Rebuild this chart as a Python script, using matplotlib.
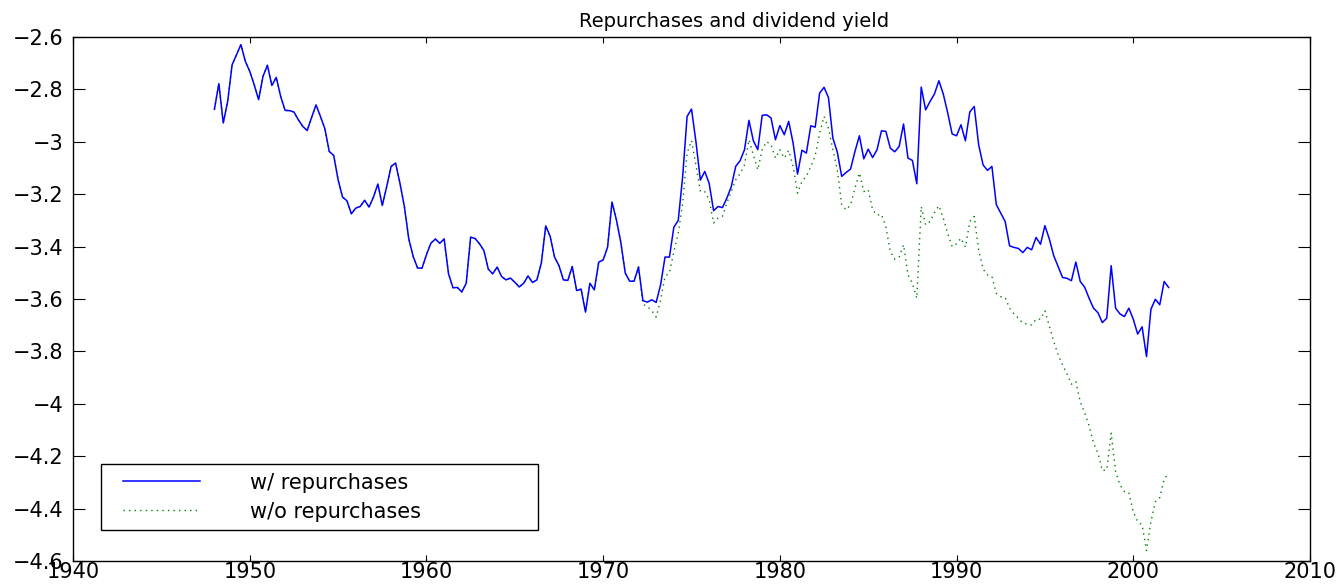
import matplotlib
matplotlib.use("Agg")
import matplotlib.pyplot as plt
from matplotlib.legend_handler import HandlerLine2D
import numpy as np

# quarterly log dividend yield, 1948Q1 .. 2002Q1
first_year = 1948.0
step_years = 0.25

with_repurchases = [
    -2.876, -2.778, -2.928, -2.846, -2.706, -2.668, -2.629, -2.693, -2.731, -2.782,
    -2.839, -2.750, -2.708, -2.785, -2.754, -2.827, -2.880, -2.881, -2.886, -2.916,
    -2.941, -2.957, -2.907, -2.859, -2.903, -2.950, -3.037, -3.052, -3.145, -3.211,
    -3.225, -3.275, -3.253, -3.247, -3.223, -3.249, -3.211, -3.161, -3.243, -3.171,
    -3.094, -3.081, -3.158, -3.247, -3.371, -3.438, -3.482, -3.482, -3.431, -3.387,
    -3.371, -3.387, -3.371, -3.504, -3.557, -3.556, -3.573, -3.540, -3.364, -3.369,
    -3.389, -3.415, -3.486, -3.504, -3.478, -3.514, -3.527, -3.520, -3.536, -3.554,
    -3.540, -3.512, -3.537, -3.527, -3.463, -3.321, -3.361, -3.440, -3.473, -3.527,
    -3.529, -3.476, -3.568, -3.562, -3.650, -3.540, -3.565, -3.459, -3.451, -3.402,
    -3.230, -3.298, -3.384, -3.501, -3.532, -3.532, -3.478, -3.606, -3.612, -3.603,
    -3.613, -3.546, -3.440, -3.440, -3.326, -3.300, -3.132, -2.903, -2.875, -2.999,
    -3.146, -3.113, -3.159, -3.263, -3.247, -3.251, -3.215, -3.171, -3.094, -3.072,
    -3.030, -2.918, -2.996, -3.030, -2.899, -2.897, -2.909, -2.992, -2.938, -2.973,
    -2.922, -3.005, -3.123, -3.032, -3.043, -2.939, -2.944, -2.814, -2.792, -2.831,
    -2.986, -3.039, -3.132, -3.117, -3.104, -3.037, -2.977, -3.065, -3.028, -3.060,
    -3.030, -2.958, -2.960, -3.024, -3.038, -3.018, -2.932, -3.062, -3.071, -3.160,
    -2.791, -2.878, -2.846, -2.817, -2.767, -2.818, -2.890, -2.970, -2.977, -2.935,
    -2.996, -2.886, -2.865, -3.011, -3.088, -3.109, -3.094, -3.240, -3.272, -3.304,
    -3.397, -3.403, -3.407, -3.423, -3.403, -3.412, -3.365, -3.391, -3.320, -3.371,
    -3.435, -3.476, -3.518, -3.521, -3.530, -3.459, -3.533, -3.555, -3.597, -3.635,
    -3.652, -3.690, -3.673, -3.473, -3.635, -3.657, -3.667, -3.635, -3.677, -3.734,
    -3.706, -3.820, -3.639, -3.601, -3.622, -3.533, -3.556,
]

# without repurchases the series coincides with the one above until 1972Q2
split_index = 97
without_repurchases_tail = [
    -3.620, -3.629, -3.644, -3.669, -3.605, -3.514, -3.501, -3.419, -3.349, -3.234,
    -3.043, -2.995, -3.088, -3.190, -3.190, -3.221, -3.310, -3.291, -3.285, -3.234,
    -3.190, -3.145, -3.122, -3.088, -2.992, -3.050, -3.107, -3.030, -2.999, -3.011,
    -3.062, -3.030, -3.062, -3.033, -3.094, -3.196, -3.151, -3.132, -3.094, -3.053,
    -2.967, -2.903, -2.948, -3.030, -3.107, -3.240, -3.260, -3.240, -3.177, -3.119,
    -3.190, -3.183, -3.260, -3.280, -3.277, -3.325, -3.419, -3.448, -3.440, -3.393,
    -3.508, -3.540, -3.597, -3.247, -3.317, -3.304, -3.270, -3.244, -3.291, -3.351,
    -3.400, -3.389, -3.368, -3.402, -3.304, -3.285, -3.412, -3.486, -3.508, -3.514,
    -3.578, -3.591, -3.594, -3.635, -3.657, -3.673, -3.692, -3.696, -3.699, -3.677,
    -3.677, -3.645, -3.703, -3.762, -3.813, -3.852, -3.886, -3.925, -3.915, -3.992,
    -4.034, -4.084, -4.150, -4.188, -4.255, -4.252, -4.112, -4.259, -4.310, -4.335,
    -4.339, -4.412, -4.450, -4.462, -4.560, -4.450, -4.374, -4.358, -4.288, -4.265,
]

x_ticks = [1940, 1950, 1960, 1970, 1980, 1990, 2000, 2010]
x_tick_labels = ["1940", "1950", "1960", "1970", "1980", "1990", "2000", "2010"]
y_ticks = [-4.6, -4.4, -4.2, -4.0, -3.8, -3.6, -3.4, -3.2, -3.0, -2.8, -2.6]
y_tick_labels = ["\u22124.6", "\u22124.4", "\u22124.2", "\u22124", "\u22123.8", "\u22123.6",
                 "\u22123.4", "\u22123.2", "\u22123", "\u22122.8", "\u22122.6"]

title = "Repurchases and dividend yield"
labels = ["w/ repurchases", "w/o repurchases"]

with_rep = np.array(with_repurchases)
without_rep = np.concatenate([with_rep[:split_index], without_repurchases_tail])
years = first_year + step_years * np.arange(len(with_rep))

plt.rcParams["font.family"] = ["DejaVu Sans"]

fig = plt.figure(figsize=(13.43, 5.84), dpi=100)
ax = fig.add_axes([0.0544, 0.0394, 0.9210, 0.8972])

l2, = ax.plot(years[: len(without_rep)], without_rep, color=(0, 0.5, 0),
              linestyle=(0, (1, 3)), linewidth=1.0, label=labels[1])
l1, = ax.plot(years, with_rep, color=(0, 0, 1), linewidth=1.1, label=labels[0])

ax.set_xlim(1940, 2010)
ax.set_ylim(-4.6, -2.6)
ax.set_xticks(x_ticks)
ax.set_xticklabels(x_tick_labels)
ax.set_yticks(y_ticks)
ax.set_yticklabels(y_tick_labels)
ax.tick_params(axis="both", direction="in", top=True, right=True,
               labelsize=15, colors="black")
ax.tick_params(axis="y", length=8.6, pad=7)
ax.tick_params(axis="x", length=4.3, pad=1)
for s in ax.spines.values():
    s.set_linewidth(1.0)
    s.set_color("black")

ax.set_title(title, fontsize=14, pad=7, x=0.534)

# handle line sits a bit inside its box, like the MATLAB legend
handler = HandlerLine2D(xpad=0.66)
leg = ax.legend(handles=[l1, l2], loc="lower left",
                bbox_to_anchor=(0.0226, 0.059, 0.353, 0.124), mode="expand",
                fontsize=15, handlelength=4.37, handletextpad=2.4,
                borderaxespad=0, borderpad=0.4, labelspacing=0.44,
                fancybox=False, framealpha=1, edgecolor="black",
                handler_map={l1: handler, l2: handler})
leg.get_frame().set_linewidth(1.0)

fig.savefig("out.png", dpi=100)
